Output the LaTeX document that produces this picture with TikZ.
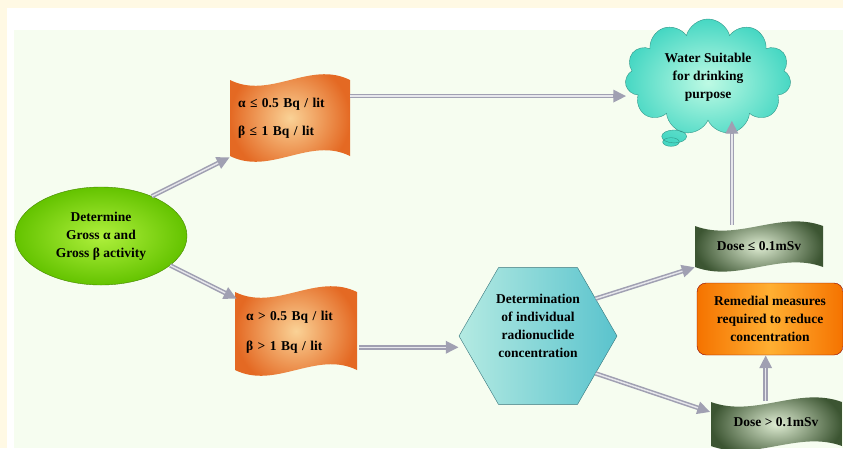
\documentclass[tikz,border=0pt]{standalone}
\usepackage{fontspec}
\setmainfont{Liberation Serif}
\usetikzlibrary{shapes.geometric,shapes.callouts,arrows.meta}

\definecolor{creamback}{RGB}{255,249,228}
\definecolor{paleback}{RGB}{246,253,240}
\definecolor{flaglight}{RGB}{250,210,150}
\definecolor{flagdark}{RGB}{228,105,35}
\definecolor{limelight}{RGB}{175,240,60}
\definecolor{limedark}{RGB}{100,195,0}
\definecolor{cloudlight}{RGB}{190,250,228}
\definecolor{clouddark}{RGB}{70,215,195}
\definecolor{hexlight}{RGB}{180,234,226}
\definecolor{hexdark}{RGB}{90,195,205}
\definecolor{doselight}{RGB}{222,236,210}
\definecolor{dosedark}{RGB}{60,85,50}
\definecolor{remlight}{RGB}{255,175,50}
\definecolor{remdark}{RGB}{245,115,0}
\definecolor{arrowgray}{RGB}{160,160,178}

% wavy banner: x0 y0 x1 y1 amplitude shading
\newcommand{\drawwave}[6]{%
  \shade[#6] (#1,#2) .. controls ({#1+(#3-#1)/3},{#2+#5}) and ({#1+2*(#3-#1)/3},{#2-#5}) .. (#3,#2)
    -- (#3,#4) .. controls ({#1+2*(#3-#1)/3},{#4-#5}) and ({#1+(#3-#1)/3},{#4+#5}) .. (#1,#4) -- cycle;}

\tikzset{
  every node/.style={font=\bfseries\fontsize{13.5}{18}\selectfont, align=center},
  arr/.style={line width=4.5pt, draw=arrowgray, -{Triangle[length=13pt,width=12pt]},
    postaction={draw=white!75!arrowgray, line width=1.4pt, arrows=-, shorten >=13pt}},
  bannerbox/.style={minimum width=#1, minimum height=78pt, inner sep=0pt, text width=104pt, align=left},
  dosebox/.style={minimum width=#1, minimum height=42pt, inner sep=0pt}
}

\begin{document}
\begin{tikzpicture}[x=1pt,y=-1pt]
  \useasboundingbox (0,0) rectangle (843,448);
  \fill[creamback] (0,0) rectangle (843,448);
  \fill[white] (7,8) rectangle (843,448);
  \fill[paleback] (14,30) rectangle (843,448);

  % banners
  \drawwave{230}{80}{350}{156}{20}{inner color=flaglight, outer color=flagdark}
  \drawwave{235}{292}{357}{370}{20}{inner color=flaglight, outer color=flagdark}
  \drawwave{695}{226}{823}{267}{16}{inner color=doselight, outer color=dosedark}
  \drawwave{711}{402}{842}{446}{16}{inner color=doselight, outer color=dosedark}

  \node[ellipse, minimum width=172pt, minimum height=98pt, draw=limedark!70!black,
    inner color=limelight, outer color=limedark] (gross) at (101,236)
    {Determine\\Gross α and\\Gross β activity};

  \node[bannerbox=120pt] (flagA) at (290,118) {α ≤ 0.5 Bq / lit\\[10pt]β ≤ 1 Bq / lit};
  \node[bannerbox=122pt] (flagB) at (298,332) {α > 0.5 Bq / lit\\[12pt]β > 1 Bq / lit};

  \node[cloud callout, cloud puffs=11, cloud ignores aspect, minimum width=166pt,
    minimum height=116pt, inner sep=0pt, callout absolute pointer={(671,142)},
    draw=clouddark!70!black, inner color=cloudlight, outer color=clouddark] (cloud) at (708,77)
    {Water Suitable\\for drinking\\purpose};

  \node[regular polygon, regular polygon sides=6, minimum size=158pt, draw=hexdark!60!black,
    left color=hexlight, right color=hexdark] (hex) at (538,336) {};
  \node (hextext) at (538,326) {Determination\\of individual\\radionuclide\\concentration};

  \node[dosebox=128pt] (doseA) at (759,246) {Dose ≤ 0.1mSv};
  \node[dosebox=131pt] (doseB) at (776,422) {Dose > 0.1mSv};

  \node[rounded corners=9pt, minimum width=146pt, minimum height=72pt, draw=red!55!black,
    left color=remdark, right color=remdark, middle color=remlight] (remedy) at (770,319)
    {Remedial measures\\required to reduce\\concentration};

  % connectors
  \draw[arr] (gross.38) -- (flagA.south west);
  \draw[arr] (gross.-23) -- ([yshift=-6pt]flagB.north west);
  \draw[arr] (flagA.20) -- (flagA.20 -| cloud.west);
  \draw[arr] (flagB.-14) -- (flagB.-14 -| hex.west);
  \draw[arr] (hex.33) -- (doseA.south west);
  \draw[arr] (hex.-33) -- ([yshift=10pt]doseB.west);
  \draw[arr] (doseA.142) -- (doseA.142 |- cloud.south);
  \draw[arr] (doseB.116) -- (doseB.116 |- remedy.south);
\end{tikzpicture}
\end{document}
